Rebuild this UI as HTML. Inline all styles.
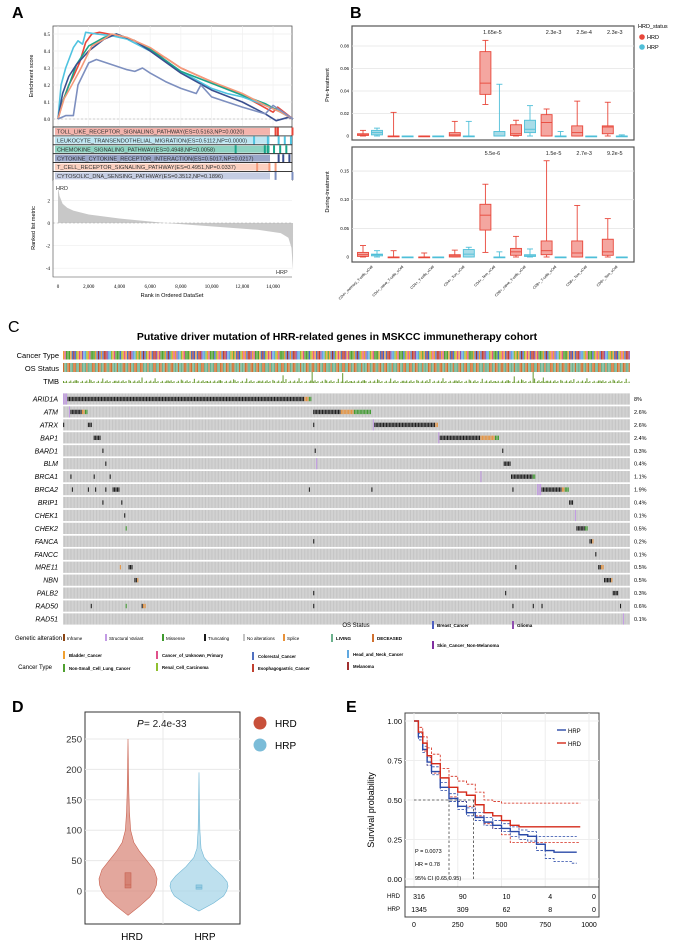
<!DOCTYPE html>
<html><head><meta charset="utf-8"><style>
html,body{margin:0;padding:0;background:#fff;}
svg{display:block;font-family:"Liberation Sans",Arial,sans-serif;}
</style></head><body>
<svg id="fig" width="674" height="944" viewBox="0 0 674 944" xmlns="http://www.w3.org/2000/svg">
<defs>
<pattern id="colpat" width="1.454" height="20" patternUnits="userSpaceOnUse"><rect x="1.1" y="0" width="0.35" height="20" fill="#eaeaea"/></pattern>
</defs>
<text x="12" y="18" font-size="16" font-weight="bold">A</text>
<text x="350" y="18" font-size="16" font-weight="bold">B</text>
<text x="8" y="332" font-size="16">C</text>
<text x="12" y="712" font-size="16" font-weight="bold">D</text>
<text x="346" y="712" font-size="16" font-weight="bold">E</text>
</svg>
<script>
// ---------- DATA ----------
const esToll=[[0,0],[300,0.1],[700,0.2],[1000,0.25],[1400,0.33],[1800,0.45],[2200,0.5],[2700,0.51],[3300,0.5],[4000,0.49],[5000,0.46],[6000,0.41],[7000,0.36],[8000,0.3],[9000,0.26],[10000,0.22],[11000,0.18],[12000,0.14],[13000,0.09],[14000,0.04],[14300,0.07],[15300,0]];
const esLeuk=[[0,0],[200,0.2],[500,0.3],[1000,0.42],[1300,0.46],[1600,0.44],[1800,0.51],[2500,0.5],[3500,0.49],[4500,0.47],[6000,0.4],[8000,0.28],[10000,0.18],[11000,0.15],[12000,0.13],[13500,0.08],[14500,0.04],[15300,0]];
const esChemo=[[0,0],[300,0.1],[800,0.22],[1200,0.32],[2000,0.43],[3000,0.48],[3800,0.5],[5000,0.46],[6000,0.41],[8000,0.28],[10000,0.21],[12000,0.14],[13500,0.09],[14500,0.04],[15300,0]];
const esCyto=[[0,0],[300,0.15],[700,0.25],[1200,0.32],[2000,0.4],[3000,0.47],[3800,0.5],[5000,0.46],[6000,0.4],[8000,0.27],[10000,0.17],[12000,0.1],[13500,0.03],[14200,-0.01],[15000,0.01],[15300,0]];
const esTcell=[[0,0],[400,0.12],[900,0.2],[1500,0.3],[2200,0.43],[3000,0.47],[3500,0.5],[4500,0.48],[6000,0.42],[8000,0.3],[10000,0.22],[12000,0.15],[13500,0.08],[14500,0.04],[15300,0]];
const esDna=[[0,0],[500,0.02],[1000,0.02],[1300,0.2],[2000,0.33],[2500,0.35],[3500,0.32],[4500,0.29],[5000,0.28],[5500,0.3],[6000,0.27],[7000,0.22],[8000,0.18],[9000,0.15],[9300,0.2],[10000,0.13],[12000,0.07],[13500,0.03],[14000,0.08],[15300,0]];
const gseaNames=["TOLL_LIKE_RECEPTOR_SIGNALING_PATHWAY(ES=0.5163,NP=0.0020)","LEUKOCYTE_TRANSENDOTHELIAL_MIGRATION(ES=0.5112,NP=0.0000)","CHEMOKINE_SIGNALING_PATHWAY(ES=0.4948,NP=0.0058)","CYTOKINE_CYTOKINE_RECEPTOR_INTERACTION(ES=0.5017,NP=0.0217)","T_CELL_RECEPTOR_SIGNALING_PATHWAY(ES=0.4951,NP=0.0337)","CYTOSOLIC_DNA_SENSING_PATHWAY(ES=0.3512,NP=0.1896)"];
const gseaHits=[[14100,14250,15200],[12700,13600,14300,14700,15100],[11500,13400,13600,14000,14400,14800],[14300,14600,15000],[12900,13700,14100],[14100,15200]];
const rankPos=[0,100,300,600,1000,2000,4000,7000,10000,13000,14500,15000,15200,15300];
const rankVal=[3.2,2.4,1.7,1.35,1.1,0.75,0.4,0,-0.3,-0.6,-0.9,-1.3,-2.2,-4.2];
const esTicks=[0,0.1,0.2,0.3,0.4,0.5];
const rankTicks=[0,2000,4000,6000,8000,10000,12000,14000];

const cellCats=["CD4+_memory_T-cells_xCell","CD4+_naive_T-cells_xCell","CD4+_T-cells_xCell","CD4+_Tcm_xCell","CD4+_Tem_xCell","CD8+_naive_T-cells_xCell","CD8+_T-cells_xCell","CD8+_Tcm_xCell","CD8+_Tem_xCell"];
const preHRD=[[0,0.0005,0.001,0.002,0.005],[0,0,0,0,0.021],[0,0,0,0,0],[0,0,0.001,0.003,0.013],[0.028,0.037,0.047,0.075,0.085],[0,0.0005,0.002,0.01,0.014],[0,0,0.012,0.019,0.024],[0,0,0.003,0.009,0.031],[0,0.002,0.008,0.009,0.03]];
const preHRP=[[0,0.001,0.003,0.005,0.007],[0,0,0,0,0],[0,0,0,0,0],[0,0,0,0,0.013],[0,0,0,0.004,0.046],[0,0.003,0.006,0.014,0.027],[0,0,0,0,0.004],[0,0,0,0,0],[0,0,0,0,0.001]];
const durHRD=[[0,0.001,0.004,0.008,0.02],[0,0,0,0,0.011],[0,0,0,0,0.007],[0,0,0.002,0.004,0.012],[0.008,0.047,0.073,0.092,0.127],[0,0.003,0.009,0.015,0.036],[0,0.004,0.011,0.028,0.168],[0,0,0.007,0.028,0.09],[0,0.003,0.009,0.031,0.067]];
const durHRP=[[0,0.002,0.004,0.005,0.011],[0,0,0,0,0],[0,0,0,0,0],[0,0,0.005,0.013,0.017],[0,0,0,0,0.009],[0,0.001,0.002,0.004,0.014],[0,0,0,0,0],[0,0,0,0,0],[0,0,0,0,0]];
const prePvals=["","","","","1.65e-5","","2.3e-3","2.5e-4","2.3e-3"];
const durPvals=["","","","","5.5e-6","","1.5e-5","2.7e-3","9.2e-5"];
const preTicks=[0,0.02,0.04,0.06,0.08];
const durTicks=[0,0.05,0.1,0.15];

const genes=["ARID1A","ATM","ATRX","BAP1","BARD1","BLM","BRCA1","BRCA2","BRIP1","CHEK1","CHEK2","FANCA","FANCC","MRE11","NBN","PALB2","RAD50","RAD51"];
const genePct=["8%","2.6%","2.6%","2.4%","0.3%","0.4%","1.1%","1.9%","0.4%","0.1%","0.5%","0.2%","0.1%","0.5%","0.5%","0.3%","0.6%","0.1%"];
const geneMuts=[
 [[0,3,"sv"],[3,166,"tr"],[166,169,"sp"],[169,171,"mi"]],
 [[4,5,"sv"],[5,13,"tr"],[13,15,"sp"],[15,17,"mi"],[172,191,"tr"],[191,200,"sp"],[200,212,"mi"]],
 [[0,1,"tr"],[17,20,"tr"],[172,173,"tr"],[213,214,"sv"],[214,256,"tr"],[256,258,"sp"]],
 [[21,26,"tr"],[258,259,"sv"],[259,287,"tr"],[287,297,"sp"],[297,300,"mi"]],
 [[27,28,"tr"],[173,174,"tr"],[302,303,"tr"]],
 [[29,30,"tr"],[174,175,"sv"],[303,308,"tr"]],
 [[5,6,"tr"],[21,22,"tr"],[32,33,"tr"],[287,288,"sv"],[308,323,"tr"],[323,325,"mi"]],
 [[6,7,"tr"],[17,18,"tr"],[22,23,"tr"],[29,30,"tr"],[34,39,"tr"],[169,170,"tr"],[212,213,"tr"],[309,310,"tr"],[326,329,"sv"],[329,343,"tr"],[343,345,"sp"],[345,348,"mi"]],
 [[27,28,"tr"],[40,41,"tr"],[348,351,"tr"]],
 [[42,43,"tr"],[352,353,"sv"]],
 [[43,44,"mi"],[353,359,"tr"],[359,361,"mi"]],
 [[172,173,"tr"],[362,364,"tr"],[364,365,"sp"]],
 [[366,367,"tr"]],
 [[39,40,"sp"],[45,48,"tr"],[311,312,"tr"],[368,370,"tr"],[370,372,"sp"]],
 [[49,51,"tr"],[51,52,"sp"],[372,377,"tr"],[377,378,"sp"]],
 [[172,173,"tr"],[304,305,"tr"],[378,382,"tr"]],
 [[19,20,"tr"],[43,44,"mi"],[54,55,"tr"],[55,57,"sp"],[172,173,"tr"],[309,310,"tr"],[323,324,"tr"],[329,330,"tr"],[383,384,"tr"]],
 [[385,386,"sv"]]
];
const tmbSpikes=[[54,0.5],[151,0.7],[171,1.0],[192,0.9],[310,0.6],[323,1.0],[330,0.5]];

const violinHRDy=[-40,-25,-10,0,10,20,35,50,65,80,100,130,160,200,250];
const violinHRDw=[0,0.4,0.75,0.9,0.98,1.0,0.9,0.65,0.4,0.2,0.09,0.05,0.03,0.015,0];
const violinHRPy=[-33,-20,-8,0,8,15,25,40,55,70,100,150,195];
const violinHRPw=[0,0.5,0.85,0.95,1.0,0.97,0.8,0.45,0.18,0.07,0.03,0.012,0];
const boxHRD=[5,10,30]; const boxHRP=[3,6,10];
const violinTicks=[0,50,100,150,200,250];

const kmT_HRD=[0,25,50,75,100,150,200,250,300,350,400,450,500,550,600,700,800,950];
const kmS_HRD=[1,0.93,0.86,0.78,0.73,0.64,0.58,0.55,0.53,0.47,0.42,0.40,0.37,0.34,0.33,0.33,0.33,0.33];
const kmU_HRD=[1,0.96,0.9,0.83,0.79,0.7,0.65,0.62,0.6,0.55,0.5,0.49,0.48,0.48,0.48,0.48,0.48,0.48];
const kmL_HRD=[1,0.9,0.81,0.72,0.67,0.58,0.52,0.49,0.46,0.40,0.35,0.32,0.28,0.23,0.23,0.23,0.23,0.23];
const kmT_HRP=[0,25,50,75,100,150,200,250,300,350,400,450,500,550,600,650,700,750,800,900,930];
const kmS_HRP=[1,0.9,0.82,0.74,0.68,0.58,0.51,0.46,0.42,0.39,0.36,0.34,0.32,0.30,0.28,0.27,0.22,0.18,0.17,0.17,0.17];
const kmU_HRP=[1,0.92,0.84,0.77,0.71,0.61,0.54,0.49,0.45,0.42,0.39,0.37,0.35,0.33,0.31,0.30,0.27,0.27,0.27,0.27,0.27];
const kmL_HRP=[1,0.88,0.8,0.72,0.66,0.56,0.49,0.44,0.4,0.37,0.34,0.32,0.3,0.27,0.25,0.24,0.18,0.13,0.11,0.1,0.1];
const riskTimes=[0,250,500,750,1000];
const riskHRD=[316,90,10,4,0];
const riskHRP=[1345,309,62,8,0];
const kmYTicks=[0,0.25,0.5,0.75,1.0];

// ---------- HELPERS ----------
const NS='http://www.w3.org/2000/svg';
const svg=document.getElementById('fig');
function el(tag,a,p){const e=document.createElementNS(NS,tag);for(const k in a)e.setAttribute(k,a[k]);(p||svg).appendChild(e);return e;}
function tx(x,y,s,a,p){const e=el('text',Object.assign({x:x,y:y},a||{}),p);e.textContent=s;return e;}

// ---------- PANEL A ----------
const ax=r=>58+r*0.01536, ay=v=>119-v*170;
let e;
e=el('rect',{x:53,y:26,width:239,height:101,fill:'#fff',stroke:'#555','stroke-width':0.8});

esTicks.forEach(t=>{e=el('line',{x1:53,x2:292,y1:ay(t),y2:ay(t),stroke:'#e6e6e6','stroke-width':0.6});

e=tx(50,ay(t)+2,t.toFixed(1),{'font-size':5,'text-anchor':'end','font-family':'Liberation Serif'});
});
rankTicks.forEach(t=>{e=el('line',{x1:ax(t),x2:ax(t),y1:26,y2:127,stroke:'#eee','stroke-width':0.6});

e=el('line',{x1:ax(t),x2:ax(t),y1:180,y2:277,stroke:'#eee','stroke-width':0.6});
});
e=el('line',{x1:53,x2:292,y1:ay(0),y2:ay(0),stroke:'#aaa','stroke-dasharray':'2,2','stroke-width':0.6});

const gCols=['#e8473a','#4fc3e0','#1aa58a','#3a4f8f','#f49a7a','#7d8fbf'];
const gBg=['#f4b4ad','#bfe6f2','#8fd3c2','#9aa6c9','#fbd0c0','#c5cde3'];
[esToll,esLeuk,esChemo,esCyto,esTcell,esDna].forEach((s,i)=>{
 e=el('polyline',{points:s.map(p=>ax(p[0])+','+ay(p[1])).join(' '),fill:'none',stroke:gCols[i],'stroke-width':1.6,'stroke-linejoin':'round'});
 
});
e=tx(33,76,'Enrichment score',{'font-size':5.5,'text-anchor':'middle',transform:'rotate(-90 33 76)'});

gseaNames.forEach((n,i)=>{
 const y=127+i*8.9;
 e=el('rect',{x:53,y:y,width:239,height:8.9,fill:'#fff',stroke:'#222','stroke-width':0.8});
 
 e=el('rect',{x:55,y:y+1,width:215,height:6.9,fill:gBg[i]});
 
 gseaHits[i].forEach(h=>{e=el('rect',{x:ax(h),y:y+0.5,width:2,height:7.9,fill:gCols[i]});
 });
 e=tx(57,y+6.6,n,{'font-size':5.6,fill:'#333'});
 
});
const ry=v=>223-v*11.3;
e=el('rect',{x:53,y:180,width:239,height:97,fill:'#fff',stroke:'none'});

[2,0,-2,-4].forEach(t=>{e=el('line',{x1:53,x2:292,y1:ry(t),y2:ry(t),stroke:'#eee','stroke-width':0.6});

e=tx(50,ry(t)+2,String(t),{'font-size':5,'text-anchor':'end','font-family':'Liberation Serif'});
});
e=el('polygon',{points:ax(0)+','+ry(0)+' '+rankPos.map((r,i)=>ax(r)+','+ry(rankVal[i])).join(' ')+' '+ax(15300)+','+ry(0),fill:'#c8c8c8'});

e=el('line',{x1:53,x2:292,y1:ry(0),y2:ry(0),stroke:'#aaa','stroke-dasharray':'2,2','stroke-width':0.6});

e=el('polyline',{points:'53,180 53,277 292,277',fill:'none',stroke:'#444','stroke-width':0.6});

e=tx(56,190,'HRD',{'font-size':5.5,fill:'#333'});
e=tx(276,274,'HRP',{'font-size':5.5,fill:'#333'});
e=tx(35,228,'Ranked list metric',{'font-size':5.5,'text-anchor':'middle',transform:'rotate(-90 35 228)'});

rankTicks.forEach(t=>{e=tx(ax(t),288,t.toLocaleString('en-US'),{'font-size':5,'text-anchor':'middle','font-family':'Liberation Serif'});
});
e=tx(172,297,'Rank in Ordered DataSet',{'font-size':5.6,'text-anchor':'middle'});


// ---------- PANEL B ----------
const bx=i=>363+i*30.6;
function boxPanel(top,bot,zeroY,ppu,dataH,dataP,ticks,pv,lab,labY,tickFmt){
 e=el('rect',{x:352,y:top,width:282,height:bot-top,fill:'#fff',stroke:'#555','stroke-width':1.2});
 
 const yy=v=>zeroY-v*ppu;
 ticks.forEach(t=>{if(t>0){e=el('line',{x1:352,x2:634,y1:yy(t),y2:yy(t),stroke:'#e4e4e4','stroke-width':0.8});
 }
 e=tx(349,yy(t)+1.5,tickFmt(t),{'font-size':4.5,'text-anchor':'end'});
 });
 [[dataH,0,'#e8473a','#f4a6a0'],[dataP,14,'#4fbfd8','#a8dce8']].forEach(g=>{
  g[0].forEach((d,i)=>{
   const cx=bx(i)+g[1];
   e=el('line',{x1:cx,x2:cx,y1:yy(d[0]),y2:yy(d[4]),stroke:g[2],'stroke-width':0.9});
   
   [d[0],d[4]].forEach(v=>{e=el('line',{x1:cx-3,x2:cx+3,y1:yy(v),y2:yy(v),stroke:g[2],'stroke-width':0.9});
   });
   e=el('rect',{x:cx-5.5,y:yy(d[3]),width:11,height:Math.max(0.8,yy(d[1])-yy(d[3])),fill:g[3],stroke:g[2],'stroke-width':0.9});
   
   e=el('line',{x1:cx-5.5,x2:cx+5.5,y1:yy(d[2]),y2:yy(d[2]),stroke:g[2],'stroke-width':0.9});
   
  });
 });
 pv.forEach((p,i)=>{if(p){e=tx(bx(i)+7,top+8,p,{'font-size':5.5,'text-anchor':'middle',fill:'#222'});
 }});
 e=tx(329,labY,lab,{'font-size':5.5,'text-anchor':'middle',transform:'rotate(-90 329 '+labY+')'});
 
}
boxPanel(26,140,136,1125,preHRD,preHRP,preTicks,prePvals,'Pre-treatment',85,t=>t===0?'0':t.toFixed(2));
boxPanel(147,262,257,573,durHRD,durHRP,durTicks,durPvals,'During-treatment',192,t=>t===0?'0':t.toFixed(2));
cellCats.forEach((c,i)=>{const x=bx(i)+10,y=267;
 e=tx(x,y,c,{'font-size':3.6,'text-anchor':'end',transform:'rotate(-45 '+x+' '+y+')'});
 });
e=tx(638,28,'HRD_status',{'font-size':5.5});
e=el('circle',{cx:642,cy:37,r:2.8,fill:'#e8473a'});
e=tx(647,39,'HRD',{'font-size':5.5});
e=el('circle',{cx:642,cy:47,r:2.8,fill:'#4fbfd8'});
e=tx(647,49,'HRP',{'font-size':5.5});

// ---------- PANEL C ----------
e=tx(337,340,'Putative driver mutation of HRR-related genes in MSKCC immunetherapy cohort',{'font-size':10.5,'font-weight':'bold','text-anchor':'middle'});

const cw=1.454, gx=c=>63+c*cw;
const ctCols=['#f0a030','#e0508a','#5070c0','#60a8e0','#50a030','#90c030','#c04030','#a03030','#9050b0','#4060d0'];
const ctSeq=[0,4,2,5,0,6,3,1,4,7,0,2,8,5,4,0,9,1,6,3];
for(let c=0;c<390;c++){
 const k=ctSeq[(c*7+Math.floor(c/13))%20];
 e=el('rect',{x:gx(c),y:351,width:cw*0.85,height:8.5,fill:ctCols[k]});
 
 e=el('rect',{x:gx(c),y:363,width:cw*0.85,height:9,fill:((c*5+Math.floor(c/3))%7<3)?'#d07030':'#6bb08c'});
 
 const h=((c*37)%11)/11*3+((c%9===0)?2:0);
 e=el('rect',{x:gx(c),y:383-h,width:cw*0.7,height:h,fill:'#6a9a30'});
 
}
tmbSpikes.forEach(s=>{e=el('rect',{x:gx(s[0]),y:383-s[1]*11,width:cw*0.7,height:s[1]*11,fill:'#6a9a30'});
});
e=tx(59,358,'Cancer Type',{'font-size':7.5,'text-anchor':'end'});
e=tx(59,371,'OS Status',{'font-size':7.5,'text-anchor':'end'});
e=tx(59,384,'TMB',{'font-size':7.5,'text-anchor':'end'});
const mCols={tr:'#1a1a1a',mi:'#3f9b2f',sp:'#e8923a',sv:'#c39be5',inf:'#8b4513'};
genes.forEach((g,i)=>{
 const cy=399+i*12.94;
 e=el('rect',{x:63,y:cy-5.6,width:567,height:11.2,fill:'#c4c4c4'});
 
 e=el('rect',{x:63,y:cy-5.6,width:567,height:11.2,fill:'url(#colpat)'});
 
 geneMuts[i].forEach(m=>{
  const big=m[2]==='sv';
  for(let c=m[0];c<m[1];c++){
   e=el('rect',{x:gx(c)+0.15,y:big?cy-5.6:cy-2.2,width:cw*0.7,height:big?11.2:4.4,fill:mCols[m[2]]});
   
  }
 });
 e=tx(58,cy+2.5,g,{'font-size':7,'font-style':'italic','text-anchor':'end'});
 
 e=tx(634,cy+2,genePct[i],{'font-size':5.5});
 
});
e=tx(62,640,'Genetic alteration',{'font-size':6,'text-anchor':'end'});
[['Inframe','#8b4513',63],['Structural Variant','#c39be5',105],['Missense','#3f9b2f',162],['Truncating','#1a1a1a',204],['No alterations','#c4c4c4',243],['Splice','#e8923a',283]].forEach(L=>{
 e=el('rect',{x:L[2],y:634,width:2,height:7,fill:L[1]});
 e=tx(L[2]+4,640,L[0],{'font-size':4.5});});
e=tx(356,627,'OS Status',{'font-size':6,'text-anchor':'middle'});
[['LIVING','#6bb08c',331,640],['DECEASED','#d07030',372,640],['Breast_Cancer','#5060c0',432,627],['Glioma','#9050b0',512,627],['Skin_Cancer_Non-Melanoma','#8030a0',432,647]].forEach(L=>{
 e=el('rect',{x:L[2],y:L[3]-6,width:2,height:8,fill:L[1]});
 e=tx(L[2]+5,L[3],L[0],{'font-size':4.5,'font-weight':'bold'});});
e=tx(52,669,'Cancer Type',{'font-size':6,'text-anchor':'end'});
[['Bladder_Cancer','#f0a030',63,657],['Non-Small_Cell_Lung_Cancer','#50a030',63,670],['Cancer_of_Unknown_Primary','#e0508a',156,657],['Renal_Cell_Carcinoma','#90c030',156,669],['Colorectal_Cancer','#5070c0',252,658],['Esophagogastric_Cancer','#c04030',252,670],['Head_and_Neck_Cancer','#60a8e0',347,656],['Melanoma','#a03030',347,668]].forEach(L=>{
 e=el('rect',{x:L[2],y:L[3]-6,width:2,height:8,fill:L[1]});
 e=tx(L[2]+6,L[3],L[0],{'font-size':4.3,'font-weight':'bold'});});

// ---------- PANEL D ----------
const vy=v=>891-v*0.608;
e=el('rect',{x:85,y:712,width:155,height:212,fill:'#fff',stroke:'#333','stroke-width':1});

violinTicks.forEach(t=>{e=el('line',{x1:85,x2:240,y1:vy(t),y2:vy(t),stroke:'#e8e8e8','stroke-width':1});

e=tx(82,vy(t)+3.5,String(t),{'font-size':9.5,'text-anchor':'end',fill:'#333'});
});
e=el('line',{x1:163,x2:163,y1:712,y2:924,stroke:'#e8e8e8','stroke-width':1});
function violin(cx,ys,ws,hw,fill,stroke,box,name){
 const L=ys.map((y,i)=>(cx-ws[i]*hw)+','+vy(y)), R=ys.map((y,i)=>(cx+ws[i]*hw)+','+vy(y)).reverse();
 e=el('polygon',{points:L.concat(R).join(' '),fill:fill,stroke:stroke,'stroke-width':0.6,'fill-opacity':0.75});
 
 e=el('rect',{x:cx-3,y:vy(box[2]),width:6,height:vy(box[0])-vy(box[2]),fill:stroke,'fill-opacity':0.5,stroke:stroke,'stroke-width':0.6});
 
 e=el('line',{x1:cx-3,x2:cx+3,y1:vy(box[1]),y2:vy(box[1]),stroke:stroke,'stroke-width':0.6});
 
}
violin(128,violinHRDy,violinHRDw,29,'#d98a7c','#c8604e',boxHRD,'violin-hrd');
violin(199,violinHRPy,violinHRPw,29,'#a8d6e8','#6fb6d4',boxHRP,'violin-hrp');
e=tx(137,727,'P',{'font-size':10,'font-style':'italic'});
e=tx(144,727,'= 2.4e-33',{'font-size':10,fill:'#222'});
e=tx(132,940,'HRD',{'font-size':10,'text-anchor':'middle'});
e=tx(205,940,'HRP',{'font-size':10,'text-anchor':'middle'});
e=el('circle',{cx:260,cy:723,r:6.5,fill:'#c8503a'});
e=tx(275,727,'HRD',{'font-size':10});
e=el('circle',{cx:260,cy:745,r:6.5,fill:'#7bbcd8'});
e=tx(275,749,'HRP',{'font-size':10});

// ---------- PANEL E ----------
const kx=t=>414+t*0.175, ky=s=>879-s*158;
e=el('rect',{x:405,y:713,width:194,height:174,fill:'#fff',stroke:'#444','stroke-width':1});

kmYTicks.forEach(t=>{e=el('line',{x1:405,x2:599,y1:ky(t),y2:ky(t),stroke:'#eee','stroke-width':1});

e=tx(402,ky(t)+3,t.toFixed(2),{'font-size':7.5,'text-anchor':'end'});
});
riskTimes.forEach(t=>{e=el('line',{x1:kx(t),x2:kx(t),y1:713,y2:887,stroke:'#eee','stroke-width':1});
});
function step(T,S,col,dash,w,name){
 let pts=[];T.forEach((t,i)=>{if(i>0)pts.push(kx(t)+','+ky(S[i-1]));pts.push(kx(t)+','+ky(S[i]));});
 const a={points:pts.join(' '),fill:'none',stroke:col,'stroke-width':w};if(dash)a['stroke-dasharray']=dash;
 e=el('polyline',a);
}
step(kmT_HRD,kmU_HRD,'#d42a1a','2.5,1.5',0.8,'km-hrd-ci-upper');
step(kmT_HRD,kmL_HRD,'#d42a1a','2.5,1.5',0.8,'km-hrd-ci-lower');
step(kmT_HRP,kmU_HRP,'#2a4aa8','2.5,1.5',0.8,'km-hrp-ci-upper');
step(kmT_HRP,kmL_HRP,'#2a4aa8','2.5,1.5',0.8,'km-hrp-ci-lower');
e=el('polyline',{points:kx(0)+','+ky(0.5)+' '+kx(350)+','+ky(0.5),fill:'none',stroke:'#444','stroke-dasharray':'2.5,2','stroke-width':0.8});

[200,340].forEach(t=>{e=el('line',{x1:kx(t),x2:kx(t),y1:ky(0.5),y2:ky(0),stroke:'#444','stroke-dasharray':'2.5,2','stroke-width':0.8});
});
step(kmT_HRP,kmS_HRP,'#2a4aa8',null,1.4,'km-hrp-curve');
step(kmT_HRD,kmS_HRD,'#d42a1a',null,1.4,'km-hrd-curve');
e=tx(374,810,'Survival probability',{'font-size':9,'text-anchor':'middle',transform:'rotate(-90 374 810)'});

e=el('line',{x1:557,x2:566,y1:730,y2:730,stroke:'#2a4aa8','stroke-width':1.4});
e=tx(568,733,'HRP',{'font-size':6});
e=el('line',{x1:557,x2:566,y1:743,y2:743,stroke:'#d42a1a','stroke-width':1.4});
e=tx(568,746,'HRD',{'font-size':6});
e=tx(415,853,'P = 0.0073',{'font-size':5.5});
e=tx(415,866,'HR = 0.78',{'font-size':5.5});
e=tx(415,880,'95% CI (0.65,0.95)',{'font-size':5.5});
e=el('rect',{x:405,y:887,width:194,height:30,fill:'#fff',stroke:'#444','stroke-width':1});

e=tx(400,898,'HRD',{'font-size':6,'text-anchor':'end'});
e=tx(400,911,'HRP',{'font-size':6,'text-anchor':'end'});
riskTimes.forEach((t,i)=>{
 e=tx(kx(t)+5,899,String(riskHRD[i]),{'font-size':7,'text-anchor':'middle'});
 e=tx(kx(t)+5,912,String(riskHRP[i]),{'font-size':7,'text-anchor':'middle'});
 e=tx(kx(t),927,String(t),{'font-size':7,'text-anchor':'middle'});
});
</script>
</body></html>
